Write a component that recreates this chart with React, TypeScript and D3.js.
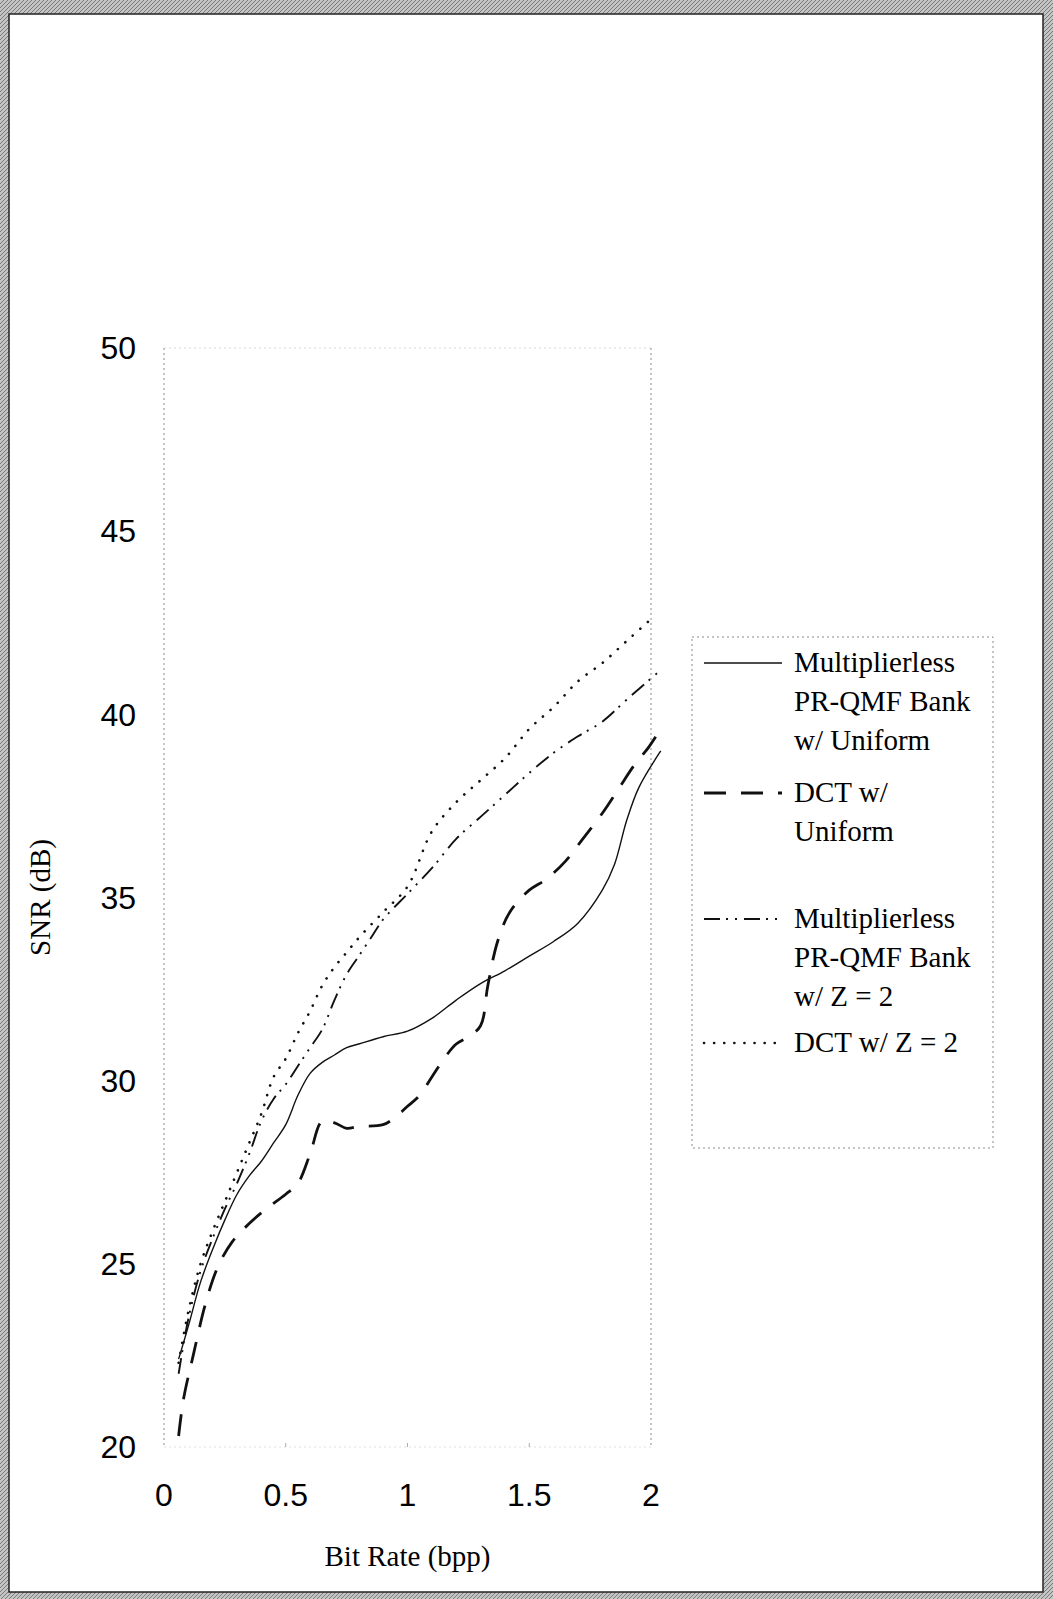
import * as React from 'react'
import { select, scaleLinear, line, curveCatmullRom } from 'd3'

const { useEffect, useRef } = React

// Multiplierless PR-QMF Bank w/ Uniform (solid)
const qmfUniformRate = [0.06, 0.1, 0.15, 0.2, 0.25, 0.3, 0.35, 0.4, 0.45, 0.5, 0.55, 0.6, 0.65, 0.7, 0.75, 0.8, 0.9, 1.0, 1.1, 1.2, 1.3, 1.4, 1.5, 1.6, 1.7, 1.8, 1.85, 1.9, 1.95, 2.04]
const qmfUniformSnr = [22.4, 23.3, 24.5, 25.4, 26.2, 26.9, 27.4, 27.8, 28.3, 28.8, 29.6, 30.2, 30.5, 30.7, 30.9, 31.0, 31.2, 31.35, 31.7, 32.2, 32.65, 33.0, 33.4, 33.8, 34.3, 35.2, 35.9, 37.1, 38.0, 39.0]

// DCT w/ Uniform (dashed)
const dctUniformRate = [0.06, 0.08, 0.12, 0.17, 0.22, 0.28, 0.35, 0.42, 0.5, 0.55, 0.6, 0.65, 0.7, 0.75, 0.8, 0.9, 0.95, 1.0, 1.05, 1.1, 1.15, 1.2, 1.25, 1.3, 1.33, 1.37, 1.42, 1.5, 1.57, 1.65, 1.72, 1.8, 1.87, 1.93, 1.99, 2.03]
const dctUniformSnr = [20.3, 21.3, 22.5, 23.9, 24.9, 25.6, 26.1, 26.5, 26.9, 27.2, 28.0, 28.9, 28.85, 28.7, 28.75, 28.8, 29.0, 29.3, 29.6, 30.1, 30.6, 31.0, 31.2, 31.5, 32.6, 33.8, 34.6, 35.2, 35.5, 36.0, 36.6, 37.3, 38.0, 38.6, 39.1, 39.5]

// Multiplierless PR-QMF Bank w/ Z = 2 (dash-dot-dot)
const qmfZ2Rate = [0.06, 0.1, 0.15, 0.2, 0.25, 0.3, 0.35, 0.4, 0.45, 0.5, 0.55, 0.6, 0.65, 0.7, 0.75, 0.8, 0.85, 0.9, 1.0, 1.1, 1.2, 1.3, 1.4, 1.5, 1.6, 1.7, 1.8, 1.9, 2.03]
const qmfZ2Snr = [22.0, 23.5, 24.8, 25.7, 26.5, 27.2, 28.0, 28.9, 29.5, 29.9, 30.4, 30.9, 31.4, 32.2, 32.9, 33.4, 33.9, 34.4, 35.1, 35.8, 36.6, 37.2, 37.8, 38.4, 38.95, 39.4, 39.8, 40.4, 41.15]

// DCT w/ Z = 2 (dotted)
const dctZ2Rate = [0.06, 0.1, 0.15, 0.2, 0.25, 0.3, 0.35, 0.4, 0.45, 0.5, 0.55, 0.6, 0.65, 0.7, 0.75, 0.8, 0.9, 1.0, 1.1, 1.2, 1.3, 1.4, 1.5, 1.6, 1.7, 1.8, 1.9, 2.0]
const dctZ2Snr = [22.3, 23.7, 25.0, 25.9, 26.7, 27.5, 28.3, 29.1, 30.1, 30.6, 31.3, 31.9, 32.6, 33.1, 33.5, 33.9, 34.6, 35.3, 36.8, 37.6, 38.2, 38.8, 39.6, 40.2, 40.9, 41.4, 42.0, 42.6]

const xTicks = [0, 0.5, 1, 1.5, 2]
const yTicks = [20, 25, 30, 35, 40, 45, 50]

const legendLabels = [
  ['Multiplierless', 'PR-QMF Bank', 'w/ Uniform'],
  ['DCT w/', 'Uniform'],
  ['Multiplierless', 'PR-QMF Bank', 'w/ Z = 2'],
  ['DCT w/ Z = 2'],
]

const W = 1053
const H = 1599

const series = [
  { rate: qmfUniformRate, snr: qmfUniformSnr, dash: null, width: 1.4, cap: 'butt' },
  { rate: dctUniformRate, snr: dctUniformSnr, dash: '22,15', width: 2.8, cap: 'butt' },
  { rate: qmfZ2Rate, snr: qmfZ2Snr, dash: '16,6,2,7,2,7', width: 1.9, cap: 'butt' },
  { rate: dctZ2Rate, snr: dctZ2Snr, dash: '0.1,10', width: 2.6, cap: 'round' },
]

function SnrChart() {
  const ref = useRef(null)

  useEffect(() => {
    const svg = select(ref.current)
    svg.selectAll('*').remove()

    const x = scaleLinear().domain([0, 2]).range([164, 651])
    const y = scaleLinear().domain([20, 50]).range([1447, 348])

    // frame
    const defs = svg.append('defs')
    const pat = defs.append('pattern').attr('id', 'hatch').attr('width', 4).attr('height', 4).attr('patternUnits', 'userSpaceOnUse')
    pat.append('rect').attr('width', 4).attr('height', 4).attr('fill', '#c4c4c4')
    pat.append('path').attr('d', 'M0,4 L4,0').attr('stroke', '#7a7a7a').attr('stroke-width', 1)
    svg.append('rect').attr('width', W).attr('height', H).attr('fill', 'url(#hatch)')
    svg.append('rect').attr('x', 9).attr('y', 14).attr('width', 1034).attr('height', 1578)
      .attr('fill', '#fff').attr('stroke', '#222').attr('stroke-width', 1.5)

    // plot area edges
    const edges = svg.append('g').attr('stroke', '#8a8a8a').attr('stroke-dasharray', '2,3').attr('fill', 'none')
    edges.append('line').attr('x1', x(0)).attr('x2', x(0)).attr('y1', y(50)).attr('y2', y(20))
    edges.append('line').attr('x1', x(2)).attr('x2', x(2)).attr('y1', y(50)).attr('y2', y(20))
    edges.append('line').attr('x1', x(0)).attr('x2', x(2)).attr('y1', y(50)).attr('y2', y(50)).attr('stroke', '#d8d8d8')
    edges.append('line').attr('x1', x(0)).attr('x2', x(2)).attr('y1', y(20)).attr('y2', y(20)).attr('stroke', '#e0e0e0')
    svg.append('g').selectAll('line').data(xTicks.slice(1, 4)).join('line')
      .attr('x1', (d) => x(d)).attr('x2', (d) => x(d)).attr('y1', y(20) - 4).attr('y2', y(20))
      .attr('stroke', '#aaa')

    // tick labels
    svg.append('g').selectAll('text').data(yTicks).join('text')
      .attr('x', 136).attr('y', (d) => y(d)).attr('dy', '0.35em')
      .attr('text-anchor', 'end')
      .style('font-family', '"Liberation Sans", Arial, sans-serif').style('font-size', '32px')
      .text((d) => d)
    svg.append('g').selectAll('text').data(xTicks).join('text')
      .attr('x', (d) => x(d)).attr('y', 1506)
      .attr('text-anchor', 'middle')
      .style('font-family', '"Liberation Sans", Arial, sans-serif').style('font-size', '32px')
      .text((d) => d)

    // axis titles
    svg.append('text').attr('x', (x(0) + x(2)) / 2).attr('y', 1566).attr('text-anchor', 'middle')
      .style('font-family', '"Liberation Serif", "Times New Roman", serif').style('font-size', '29px')
      .text('Bit Rate (bpp)')
    svg.append('text').attr('transform', `translate(50, ${(y(20) + y(50)) / 2}) rotate(-90)`).attr('text-anchor', 'middle')
      .style('font-family', '"Liberation Serif", "Times New Roman", serif').style('font-size', '29px')
      .text('SNR (dB)')

    // curves
    const makeLine = line<number>().curve(curveCatmullRom.alpha(0.5))
    series.forEach((s) => {
      const pts = s.rate.map((r, i) => [x(r), y(s.snr[i])] as [number, number])
      svg.append('path')
        .attr('d', makeLine.x((d: any) => d[0]).y((d: any) => d[1])(pts as any))
        .attr('fill', 'none').attr('stroke', '#111')
        .attr('stroke-width', s.width)
        .attr('stroke-dasharray', s.dash)
        .attr('stroke-linecap', s.cap)
    })

    // legend
    const lg = svg.append('g')
    lg.append('rect').attr('x', 692).attr('y', 637).attr('width', 301).attr('height', 511)
      .attr('fill', 'none').attr('stroke', '#8a8a8a').attr('stroke-dasharray', '2,3')
    const starts = [672, 802, 928, 1052]
    legendLabels.forEach((lines, i) => {
      const s = series[i]
      const base = starts[i]
      lg.append('line').attr('x1', 704).attr('x2', 782).attr('y1', base - 9).attr('y2', base - 9)
        .attr('stroke', '#111').attr('stroke-width', s.width)
        .attr('stroke-dasharray', s.dash).attr('stroke-linecap', s.cap)
      lines.forEach((t, j) => {
        lg.append('text').attr('x', 794).attr('y', base + j * 39)
          .style('font-family', '"Liberation Serif", "Times New Roman", serif').style('font-size', '29px')
          .text(t)
      })
    })
  }, [])

  return <svg ref={ref} width={W} height={H} style={{ position: 'absolute', left: 0, top: 0, display: 'block' }} />
}

export default function App() {
  return <SnrChart />
}
